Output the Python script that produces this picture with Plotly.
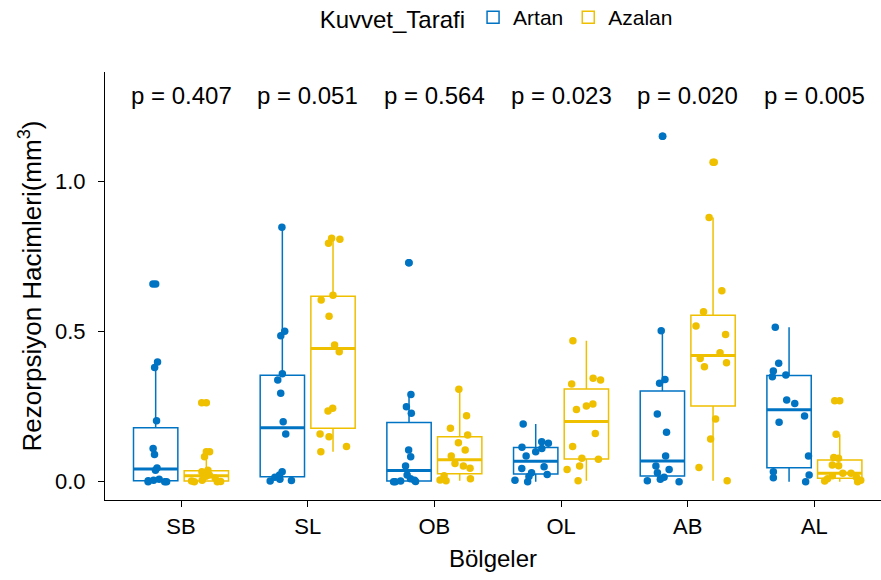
import numpy as np
import plotly.graph_objects as go

categories = ["SB", "SL", "OB", "OL", "AB", "AL"]
p_labels = ["p = 0.407", "p = 0.051", "p = 0.564", "p = 0.023", "p = 0.020", "p = 0.005"]

# Artan
artan_sb = [0, 0, 0, 0.003, 0.005, 0.008, 0.038, 0.046, 0.091, 0.111, 0.203, 0.381, 0.399, 0.659]
artan_sl = [0.002, 0.004, 0.008, 0.015, 0.022, 0.033, 0.159, 0.2, 0.295, 0.339, 0.36, 0.487, 0.502, 0.848]
artan_ob = [0, 0, 0.001, 0.002, 0.005, 0.01, 0.022, 0.052, 0.083, 0.106, 0.228, 0.25, 0.291, 0.73]
artan_ol = [0, 0.005, 0.017, 0.024, 0.03, 0.044, 0.05, 0.086, 0.1, 0.111, 0.115, 0.128, 0.133, 0.192]
artan_ab = [0, 0.003, 0.008, 0.015, 0.03, 0.041, 0.052, 0.086, 0.165, 0.226, 0.328, 0.341, 0.503, 1.152]
artan_al = [0, 0.013, 0.022, 0.033, 0.086, 0.198, 0.219, 0.261, 0.272, 0.35, 0.356, 0.369, 0.395, 0.515]

# Azalan
azalan_sb = [0, 0, 0.001, 0.002, 0.005, 0.012, 0.018, 0.022, 0.028, 0.033, 0.038, 0.083, 0.1, 0.263]
azalan_sl = [0.1, 0.117, 0.15, 0.159, 0.236, 0.245, 0.433, 0.456, 0.552, 0.606, 0.622, 0.795, 0.808, 0.812]
azalan_ob = [0.003, 0.006, 0.01, 0.02, 0.045, 0.052, 0.061, 0.086, 0.106, 0.13, 0.156, 0.178, 0.22, 0.308]
azalan_ol = [0.003, 0.041, 0.052, 0.075, 0.078, 0.117, 0.161, 0.241, 0.252, 0.259, 0.326, 0.339, 0.345, 0.47]
azalan_ab = [0.003, 0.047, 0.142, 0.209, 0.383, 0.397, 0.411, 0.43, 0.491, 0.519, 0.567, 0.637, 0.881, 1.065]
azalan_al = [0, 0.002, 0.005, 0.01, 0.015, 0.02, 0.028, 0.028, 0.053, 0.056, 0.078, 0.081, 0.158, 0.27]

series = [
    ("Artan", "#0073C2", [artan_sb, artan_sl, artan_ob, artan_ol, artan_ab, artan_al], -0.2),
    ("Azalan", "#EFC000", [azalan_sb, azalan_sl, azalan_ob, azalan_ol, azalan_ab, azalan_al], 0.2),
]

FONT = "Liberation Sans, Arial, sans-serif"
BOXW = 0.35
fig = go.Figure()

box_traces, med_traces, out_traces, pt_traces = [], [], [], []
for name, color, groups, off in series:
    pos, q1s, meds, q3s, lfs, ufs = [], [], [], [], [], []
    ox, oy, mx, my, px, py = [], [], [], [], [], []
    for i, vals in enumerate(groups):
        v = np.array(vals, dtype=float)
        q1, med, q3 = np.percentile(v, [25, 50, 75])
        iqr = q3 - q1
        lo = v[v >= q1 - 1.5 * iqr].min()
        hi = v[v <= q3 + 1.5 * iqr].max()
        x = i + 1 + off
        pos.append(x); q1s.append(q1); meds.append(med); q3s.append(q3)
        lfs.append(lo); ufs.append(hi)
        outs = v[(v < lo) | (v > hi)]
        ox += [x] * len(outs); oy += list(outs)
        mx += [x - BOXW / 2, x + BOXW / 2, None]; my += [med, med, None]
        px += [x] * len(v); py += list(v)
    box_traces.append(go.Box(
        name=name, x=pos, q1=q1s, median=meds, q3=q3s, lowerfence=lfs, upperfence=ufs,
        width=BOXW, boxpoints=False, whiskerwidth=0,
        line=dict(color=color, width=1.5), fillcolor="rgba(255,255,255,0)",
        hoverinfo="skip", legendgroup=name))
    med_traces.append(go.Scatter(x=mx, y=my, mode="lines", line=dict(color=color, width=3),
                                 showlegend=False, hoverinfo="skip", legendgroup=name))
    out_traces.append(go.Scatter(x=ox, y=oy, mode="markers", marker=dict(color=color, size=7.5),
                                 showlegend=False, hoverinfo="skip", legendgroup=name))
    pt_traces.append(go.Box(
        x=px, y=py, boxpoints="all", jitter=0.95, pointpos=0, width=BOXW, whiskerwidth=0,
        line=dict(color="rgba(0,0,0,0)", width=0), fillcolor="rgba(0,0,0,0)",
        marker=dict(color=color, size=7.5), showlegend=False, hoverinfo="skip", legendgroup=name))

for t in box_traces + med_traces + out_traces + pt_traces:
    fig.add_trace(t)

for i, lab in enumerate(p_labels):
    fig.add_annotation(x=i + 1, y=1.289, text=lab, showarrow=False, xanchor="center",
                       yanchor="middle", font=dict(family=FONT, size=24, color="black"))

fig.update_layout(
    width=881, height=580,
    margin=dict(l=105, r=0, t=72, b=80, autoexpand=False),
    plot_bgcolor="white", paper_bgcolor="white",
    font=dict(family=FONT, size=22, color="black"),
    showlegend=True,
    legend=dict(title=dict(text="Kuvvet_Tarafi", font=dict(size=24)), orientation="h",
                x=0.506, xanchor="center", y=1.126, yanchor="middle",
                font=dict(size=21), itemwidth=30),
    xaxis=dict(range=[0.4, 6.5257], tickvals=[1, 2, 3, 4, 5, 6], ticktext=categories,
               showline=True, linecolor="black", linewidth=1.2, ticks="outside", ticklen=6,
               tickcolor="black", tickwidth=1.2, showgrid=False, zeroline=False,
               tickfont=dict(size=22),
               title=dict(text="Bölgeler", font=dict(size=24), standoff=12)),
    yaxis=dict(range=[-0.061, 1.366], tickvals=[0, 0.5, 1.0], ticktext=["0.0", "0.5", "1.0"],
               showline=True, linecolor="black", linewidth=1.2, ticks="outside", ticklen=6,
               tickcolor="black", tickwidth=1.2, showgrid=False, zeroline=False,
               tickfont=dict(size=22), ticklabelstandoff=8,
               title=dict(text="Rezorpsiyon Hacimleri(mm<sup>3</sup>)", font=dict(size=26),
                          standoff=5)),
)

fig.write_html("out.html")
